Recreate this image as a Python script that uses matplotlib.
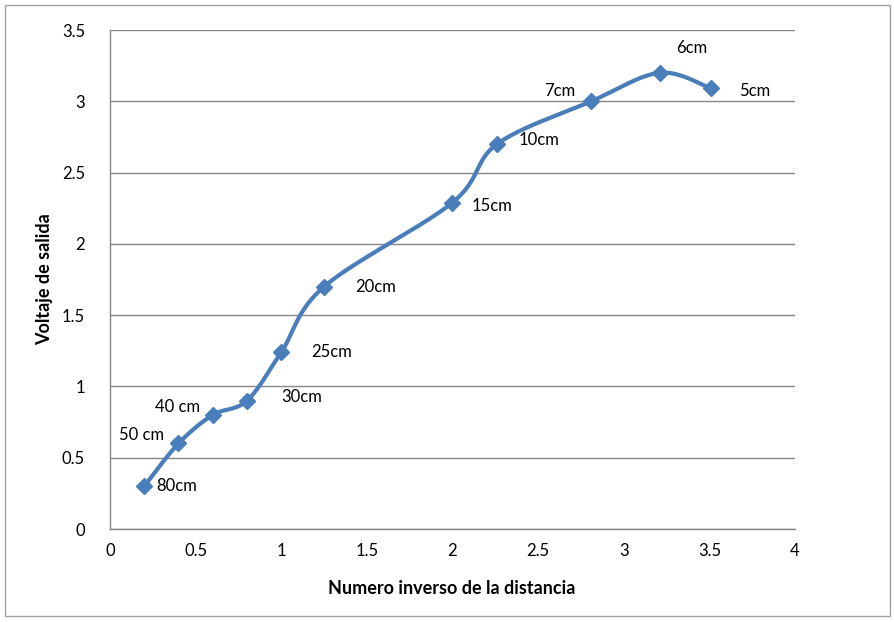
import numpy as np
import matplotlib
matplotlib.use("Agg")
import matplotlib.pyplot as plt
from matplotlib.patches import Rectangle

x_vals = [0.2, 0.4, 0.6, 0.8, 1.0, 1.25, 2.0, 2.26, 2.81, 3.21, 3.51]
y_vals = [0.30, 0.60, 0.80, 0.90, 1.24, 1.70, 2.29, 2.70, 3.00, 3.20, 3.09]
labels = ["80cm", "50 cm", "40 cm", "30cm", "25cm", "20cm", "15cm", "10cm", "7cm", "6cm", "5cm"]
x_ticks = [0, 0.5, 1, 1.5, 2, 2.5, 3, 3.5, 4]
y_ticks = [0, 0.5, 1, 1.5, 2, 2.5, 3, 3.5]

# label offsets (pixels) and alignment
offsets = [(12, 0, "left"), (-14, 8, "right"), (-13, 8, "right"), (34, 4, "left"),
           (30, 0, "left"), (31, 0, "left"), (19, -3, "left"), (22, 4, "left"),
           (-16, 10, "right"), (32, 25, "center"), (28, -3, "left")]

plt.rcParams['font.family'] = ['Lato', 'DejaVu Sans']

fig = plt.figure(figsize=(8.95, 6.22), dpi=100)
ax = fig.add_axes([110/895, 1-529/622, 685/895, 499/622])

def catmull_rom(xs, ys, n=40):
    P = np.column_stack([xs, ys])
    pts = []
    for i in range(len(P) - 1):
        p0 = P[i - 1] if i > 0 else P[i]
        p1 = P[i]
        p2 = P[i + 1]
        p3 = P[i + 2] if i + 2 < len(P) else P[i + 1]
        c1 = p1 + (p2 - p0) / 6
        c2 = p2 - (p3 - p1) / 6
        t = np.linspace(0, 1, n)[:, None]
        seg = (1-t)**3*p1 + 3*(1-t)**2*t*c1 + 3*(1-t)*t**2*c2 + t**3*p2
        pts.append(seg if i == 0 else seg[1:])
    pts = np.vstack(pts)
    return pts[:, 0], pts[:, 1]

sx, sy = catmull_rom(x_vals, y_vals)
color = "#4A7EBB"
ax.plot(sx, sy, color=color, lw=3.0, solid_capstyle="round", zorder=3)
ax.plot(x_vals, y_vals, linestyle="none", marker="D", markersize=8, color=color, zorder=4)

for xv, yv, lab, (dx, dy, ha) in zip(x_vals, y_vals, labels, offsets):
    ax.annotate(lab, (xv, yv), xytext=(dx, dy), textcoords="offset pixels",
                ha=ha, va="center", fontsize=12, color="#000000")

ax.set_xlim(0, 4)
ax.set_ylim(0, 3.5)
ax.set_xticks(x_ticks)
ax.set_xticklabels([f"{v:g}" for v in x_ticks])
ax.set_yticks(y_ticks)
ax.set_yticklabels([f"{v:g}" for v in y_ticks])
ax.yaxis.grid(True, color="#868686", lw=1)
ax.set_axisbelow(True)
for s in ["top", "right"]:
    ax.spines[s].set_visible(False)
for s in ["left", "bottom"]:
    ax.spines[s].set_color("#868686")
    ax.spines[s].set_linewidth(1)
ax.tick_params(length=0, labelsize=12)
ax.tick_params(axis="y", pad=18)
ax.tick_params(axis="x", pad=10)

ax.set_xlabel("Numero inverso de la distancia", fontsize=13, fontweight="bold", va="center")
ax.set_ylabel("Voltaje de salida", fontsize=13, fontweight="bold", va="center")
ax.xaxis.set_label_coords((452-110)/685, (529-588)/499)
ax.yaxis.set_label_coords((45-110)/685, 0.5)

fig.patches.append(Rectangle((5/895, 1-616/622), 885/895, 611/622, transform=fig.transFigure,
                             fill=False, edgecolor="#A0A0A0", lw=1))

fig.savefig("out.png", dpi=100)
